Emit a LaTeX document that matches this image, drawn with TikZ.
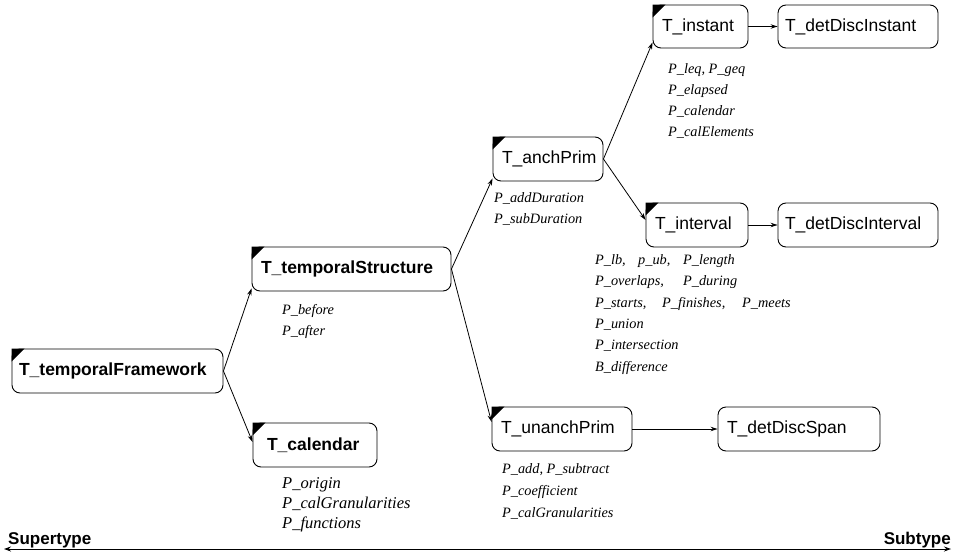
\documentclass[tikz,border=0pt]{standalone}
\usepackage{fontspec}
\setmainfont{Liberation Serif}
\setsansfont{Liberation Sans}
\usetikzlibrary{arrows.meta}
\newcommand\cornermark[1]{\fill (#1.north west) -- ([xshift=13pt]#1.north west) -- ([yshift=-13pt]#1.north west) -- cycle;}
\begin{document}
\begin{tikzpicture}[x=1pt,y=-1pt,
  tbox/.style={draw, rounded corners=8pt, line width=0.9pt, minimum height=44pt, inner ysep=0pt, align=left, font=\sffamily\fontsize{17.5}{20}\selectfont},
  tboxb/.style={tbox, font=\sffamily\bfseries\fontsize{17.5}{20}\selectfont},
  prop/.style={anchor=base west, inner sep=0pt, font=\itshape\fontsize{14.3}{16}\selectfont},
  propl/.style={prop, font=\itshape\fontsize{16.5}{19}\selectfont},
  conn/.style={line width=0.8pt, -{Stealth[length=7pt,width=4.5pt]}},
  axis/.style={line width=0.9pt, {Stealth[length=7pt,width=5pt]}-{Stealth[length=7pt,width=5pt]}},
  axlabel/.style={inner sep=0pt, font=\sffamily\bfseries\fontsize{17}{20}\selectfont}]
\useasboundingbox (0,0) rectangle (955,556);

% nodes
\node[tboxb, inner xsep=7pt, text width=197pt] (tf) at (117.5,371) {T\_temporalFramework};
\node[tboxb, inner xsep=9pt, text width=181pt] (ts) at (351.5,269) {T\_temporalStructure};
\node[tboxb, inner xsep=14pt, text width=96pt] (cal) at (315,445) {T\_calendar};
\node[tbox, inner xsep=9pt, text width=92pt] (anch) at (548,159) {T\_anchPrim};
\node[tbox, inner xsep=9pt, text width=77pt, minimum height=43pt] (inst) at (700.5,26.5) {T\_instant};
\node[tbox, inner xsep=7pt, text width=146pt, minimum height=43pt] (ddi) at (858,26.5) {T\_detDiscInstant};
\node[tbox, inner xsep=9pt, text width=84pt] (intv) at (697,225) {T\_interval};
\node[tbox, inner xsep=7pt, text width=146pt] (ddint) at (858,225) {T\_detDiscInterval};
\node[tbox, inner xsep=9pt, text width=122pt] (unan) at (562,429) {T\_unanchPrim};
\node[tbox, inner xsep=9pt, text width=144pt] (dds) at (799,429) {T\_detDiscSpan};

\cornermark{tf}
\cornermark{ts}
\cornermark{cal}
\cornermark{anch}
\cornermark{inst}
\cornermark{intv}
\cornermark{unan}

% connectors
\draw[conn] (tf.east) -- ([yshift=3pt]ts.south west);
\draw[conn] (tf.east) -- ([yshift=3pt]cal.west);
\draw[conn] (ts.east) -- ([yshift=3pt]anch.south west);
\draw[conn] (ts.east) -- ([yshift=7pt]unan.west);
\draw[conn] (anch.east) -- ([yshift=6pt]inst.south west);
\draw[conn] (anch.east) -- ([yshift=5pt]intv.west);
\draw[conn] (inst) -- (ddi);
\draw[conn] (intv) -- (ddint);
\draw[conn] (unan) -- (dds);

% properties
\node[prop] (ts1) at (282,314) {P\_before};
\node[prop] (ts2) at (282,335) {P\_after};

\node[propl] (cal1) at (282,488) {P\_origin};
\node[propl] (cal2) at (282,508) {P\_calGranularities};
\node[propl] (cal3) at (282,528) {P\_functions};

\node[prop] (an1) at (494,202) {P\_addDuration};
\node[prop] (an2) at (494,223) {P\_subDuration};

\node[prop] (in1) at (668,74) {P\_leq, P\_geq};
\node[prop] (in2) at (668,95) {P\_elapsed};
\node[prop] (in3) at (668,116) {P\_calendar};
\node[prop] (in4) at (668,137) {P\_calElements};

\node[prop] (iv1) at (595,264) {\makebox[43pt][l]{P\_lb,}\makebox[45pt][l]{p\_ub,}P\_length};
\node[prop] (iv2) at (595,285) {\makebox[88pt][l]{P\_overlaps,}P\_during};
\node[prop] (iv3) at (595,307) {\makebox[67pt][l]{P\_starts,}\makebox[80pt][l]{P\_finishes,}P\_meets};
\node[prop] (iv4) at (595,328) {P\_union};
\node[prop] (iv5) at (595,349) {P\_intersection};
\node[prop] (iv6) at (595,371) {B\_difference};

\node[prop] (un1) at (502,473) {P\_add, P\_subtract};
\node[prop] (un2) at (502,495) {P\_coefficient};
\node[prop] (un3) at (502,517) {P\_calGranularities};

% axis
\coordinate (axL) at (4,549);
\coordinate (axR) at (951,549);
\draw[axis] (axL) -- (axR);
\node[axlabel, anchor=base west] (sup) at (8,544) {Supertype};
\node[axlabel, anchor=base east] (sub) at (951,544) {Subtype};
\end{tikzpicture}
\end{document}
